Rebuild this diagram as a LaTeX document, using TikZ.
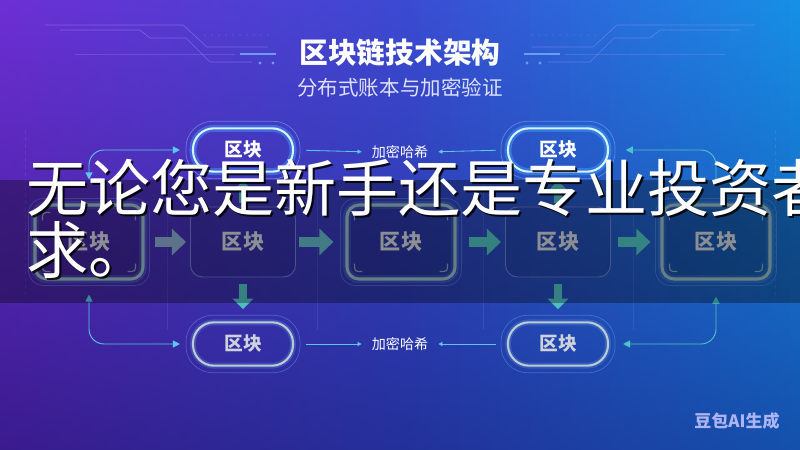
\documentclass[tikz,border=0pt]{standalone}
\usepackage{fontspec}
\setmainfont{Noto Sans CJK SC}
\usepackage{xcolor}
\usepackage{tikz}
\usetikzlibrary{positioning,arrows.meta}

\definecolor{bgTL}{HTML}{6C2FD4}
\definecolor{bgTM}{HTML}{3C4AD2}
\definecolor{bgTR}{HTML}{1690E6}
\definecolor{bgBL}{HTML}{3A1B8E}
\definecolor{bgBM}{HTML}{23309A}
\definecolor{bgBR}{HTML}{1450AC}
\definecolor{pillline}{HTML}{D6F2FF}
\definecolor{pillglow}{HTML}{3FA2FF}
\definecolor{lowline}{HTML}{BCCAD4}
\definecolor{lowglow}{HTML}{5A8CD8}
\definecolor{blkline}{HTML}{93BAC6}
\definecolor{blkglow}{HTML}{6A9AE0}
\definecolor{plainline}{HTML}{6E7CCC}
\definecolor{blktext}{HTML}{CDD2DC}
\definecolor{haloc}{HTML}{6C9CF0}
\definecolor{linkc}{HTML}{5CC6EC}
\definecolor{tealc}{HTML}{4CC4C8}
\definecolor{circ}{HTML}{A49AF8}
\definecolor{a1}{HTML}{8CA8CC}
\definecolor{a2}{HTML}{62B6C6}
\definecolor{a3}{HTML}{50BEBE}
\definecolor{a4}{HTML}{4FC2C0}

% coins des blocs
\newcommand\blkcorners[1]{%
  \draw[corner] ([shift={(9,17)}]#1.north west) .. controls ([shift={(9,9)}]#1.north west) .. ([shift={(17,9)}]#1.north west);
  \draw[corner] ([shift={(-17,9)}]#1.north east) .. controls ([shift={(-9,9)}]#1.north east) .. ([shift={(-9,17)}]#1.north east);
  \draw[corner] ([shift={(9,-17)}]#1.south west) .. controls ([shift={(9,-9)}]#1.south west) .. ([shift={(17,-9)}]#1.south west);
  \draw[corner] ([shift={(-17,-9)}]#1.south east) .. controls ([shift={(-9,-9)}]#1.south east) .. ([shift={(-9,-17)}]#1.south east);
}
% lignes de circuit
\newcommand\circuitdeco{%
  \draw[circline] (45,25) -- (183,25) -- (207,47) -- (268,47);
  \draw[circline] (60,30) -- (140,30) -- (150,38) -- (186,38) -- (210,62) -- (252,62);
  \draw[circline, draw opacity=.25] (75,54) -- (235,54);
  \foreach \xx in {205,212,...,268} {\fill[circ, opacity=.45] (\xx,35) circle (0.6);}
  \draw[line width=1.8pt, draw=haloc] (240,54) -- (276,54);
  \fill[haloc] (260,63) circle (1.6) (273,63) circle (1.6);
}

\begin{document}
\begin{tikzpicture}[x=0.03cm, y=-0.03cm,
    pill/.style={draw=pillline, line width=1.8pt, rounded corners=0.63cm, minimum width=3cm, minimum height=1.3cm,
      text=white, font=\bfseries\fontsize{16}{16}\selectfont,
      preaction={draw=pillglow, line width=6pt, draw opacity=.45}},
    lowpill/.style={draw=lowline, line width=1.8pt, rounded corners=0.63cm, minimum width=3cm, minimum height=1.3cm,
      text=blktext, font=\bfseries\fontsize{16}{16}\selectfont,
      preaction={draw=lowglow, line width=5pt, draw opacity=.35}},
    glowblk/.style={draw=blkline, line width=2.6pt, rounded corners=0.36cm, minimum width=3.24cm, minimum height=2.22cm,
      fill=black, fill opacity=.12, text opacity=1, text=blktext, font=\bfseries\fontsize{18}{18}\selectfont,
      preaction={draw=blkglow, line width=7pt, draw opacity=.25}},
    plainblk/.style={draw=plainline, line width=.8pt, rounded corners=0.36cm, minimum width=3.15cm, minimum height=2.1cm,
      fill=black, fill opacity=.08, text opacity=1, text=blktext, font=\bfseries\fontsize{18}{18}\selectfont},
    halo/.style={draw=haloc, line width=.6pt, draw opacity=.7},
    corner/.style={draw=blkline, line width=1pt, draw opacity=.8},
    circline/.style={draw=circ, line width=.5pt, draw opacity=.45},
    guide/.style={draw=white, line width=.5pt, draw opacity=.08},
    hash/.style={inner sep=0pt, text=white, font=\fontsize{12}{12}\selectfont},
    bigarr/.style={line width=9pt, -{Triangle[length=12pt,width=22pt]}},
    vertarr/.style={line width=6.5pt, draw=a3, -{Triangle[length=9pt,width=17pt]}},
    link/.style={draw=linkc, line width=.8pt, rounded corners=0.45cm, {Triangle[length=6pt,width=6pt]}-{Triangle[length=6pt,width=6pt]}},
    rlink/.style={link, draw=tealc},
    lablink/.style={draw=linkc, line width=.7pt, -{Triangle[length=3.5pt,width=3.5pt]}},
    bandtxt/.style={anchor=west, inner sep=0pt, text=white, font=\fontsize{53}{53}\selectfont},
    bandsh/.style={bandtxt, text=black, text opacity=.85},
    title/.style={text=white, font=\bfseries\fontsize{24.5}{24.5}\selectfont},
    subt/.style={text=white!88!blue, font=\fontsize{17.5}{17.5}\selectfont},
    wmark/.style={text=white!78!blue, text opacity=.85, font=\bfseries\fontsize{14.5}{14.5}\selectfont}
  ]
  \useasboundingbox (0,0) rectangle (800,450);
  \clip (0,0) rectangle (800,450);

  % Fond
  \foreach \i in {0,...,79}{
    \pgfmathtruncatemacro\p{\i*100/79}
    \ifnum\p<50
      \pgfmathtruncatemacro\q{2*\p}
      \colorlet{tc}{bgTM!\q!bgTL}\colorlet{bc}{bgBM!\q!bgBL}
    \else
      \pgfmathtruncatemacro\q{2*\p-100}
      \colorlet{tc}{bgTR!\q!bgTM}\colorlet{bc}{bgBR!\q!bgBM}
    \fi
    \shade[top color=tc, bottom color=bc] (10*\i,0) rectangle (10*\i+10.8,450);
  }
  \circuitdeco
  \begin{scope}[shift={(800,0)}, xscale=-1]
    \circuitdeco
  \end{scope}
  \foreach \gx in {167,317,483,633} {\draw[guide] (\gx,178) -- (\gx,330);}
  \draw[guide, dashed] (25,130) -- (25,300);
  \draw[guide, dashed] (775,130) -- (775,300);

  % Titre
  \node[title] (ttl) at (400,53) {区块链技术架构};
  \node[subt] (sub) at (400,88) {分布式账本与加密验证};

  % Noeuds
  \node[pill] (T1) at (243,150) {区块};
  \node[pill] (T2) at (558,150) {区块};
  \node[glowblk] (M1) at (89,242) {区块};
  \node[plainblk] (M2) at (243,242) {区块};
  \node[glowblk] (M3) at (401,242) {区块};
  \node[plainblk] (M4) at (558,242) {区块};
  \node[glowblk] (M5) at (716,242) {区块};
  \node[lowpill] (B1) at (243,344) {区块};
  \node[lowpill] (B2) at (558,344) {区块};
  \node[hash] (h1) at (400,152) {加密哈希};
  \node[hash] (h2) at (400,344) {加密哈希};

  % Halos
  \draw[halo, rounded corners=0.8cm] ([shift={(-6,-6)}]T1.north west) rectangle ([shift={(6,6)}]T1.south east);
  \draw[halo, rounded corners=0.8cm] ([shift={(-6,-6)}]T2.north west) rectangle ([shift={(6,6)}]T2.south east);
  \draw[halo, draw opacity=.45, rounded corners=0.8cm] ([shift={(-6,-6)}]B1.north west) rectangle ([shift={(6,6)}]B1.south east);
  \draw[halo, draw opacity=.45, rounded corners=0.8cm] ([shift={(-6,-6)}]B2.north west) rectangle ([shift={(6,6)}]B2.south east);
  \foreach \b in {M1,M3,M5} {
    \draw[halo, draw opacity=.45, rounded corners=0.45cm] ([shift={(-5,-5)}]\b.north west) rectangle ([shift={(5,5)}]\b.south east);
    \blkcorners{\b}
  }

  % Fleches
  \draw[bigarr, draw=a1, shorten <=0.3cm, shorten >=0.12cm] (M1) -- (M2);
  \draw[bigarr, draw=a2, shorten <=0.1cm, shorten >=0.36cm] (M2) -- (M3);
  \draw[bigarr, draw=a3, shorten <=0.36cm, shorten >=0.12cm] (M3) -- (M4);
  \draw[bigarr, draw=a4, shorten <=0.21cm, shorten >=0.3cm] (M4) -- (M5);
  \draw[vertarr, shorten <=0.21cm, shorten >=0.36cm] (M2.south) -- (B1.north);
  \draw[vertarr, shorten <=0.21cm, shorten >=0.36cm] (M4.south) -- (B2.north);
  \draw[vertarr, shorten <=0.12cm, shorten >=0.24cm] (M2.north) -- (T1.south);
  \draw[vertarr, shorten <=0.12cm, shorten >=0.24cm] (M4.north) -- (T2.south);
  \draw[link, shorten <=0.72cm, shorten >=0.36cm] (M1.north) |- (T1.west);
  \draw[link, shorten <=0.42cm, shorten >=0.36cm] (M1.south) |- (B1.west);
  \draw[rlink, shorten <=0.5cm, shorten >=0.5cm] (T2.east) -| (M5.north);
  \draw[rlink, shorten <=0.42cm, shorten >=0.48cm] (B2.east) -| (M5.south);
  \draw[lablink, shorten <=0.36cm, shorten >=0.3cm] (T1.east) -- (h1.west);
  \draw[lablink, shorten <=0.33cm, shorten >=0.3cm] (T2.west) -- (h1.east);
  \draw[lablink, shorten <=0.36cm, shorten >=0.3cm] (B1.east) -- (h2.west);
  \draw[lablink, shorten <=0.33cm, shorten >=0.3cm] (B2.west) -- (h2.east);

  % Bandeau
  \fill[black, opacity=.32] (0,180) rectangle (800,303);
  \node[bandsh] (l1s) at (28,190) {无论您是新手还是专业投资者};
  \node[bandsh] (l2s) at (28,252) {求。};
  \node[bandtxt] (l1) at (26,188) {无论您是新手还是专业投资者};
  \node[bandtxt] (l2) at (26,250) {求。};

  \node[wmark] (wm) at (737,421) {豆包AI生成};
\end{tikzpicture}
\end{document}
